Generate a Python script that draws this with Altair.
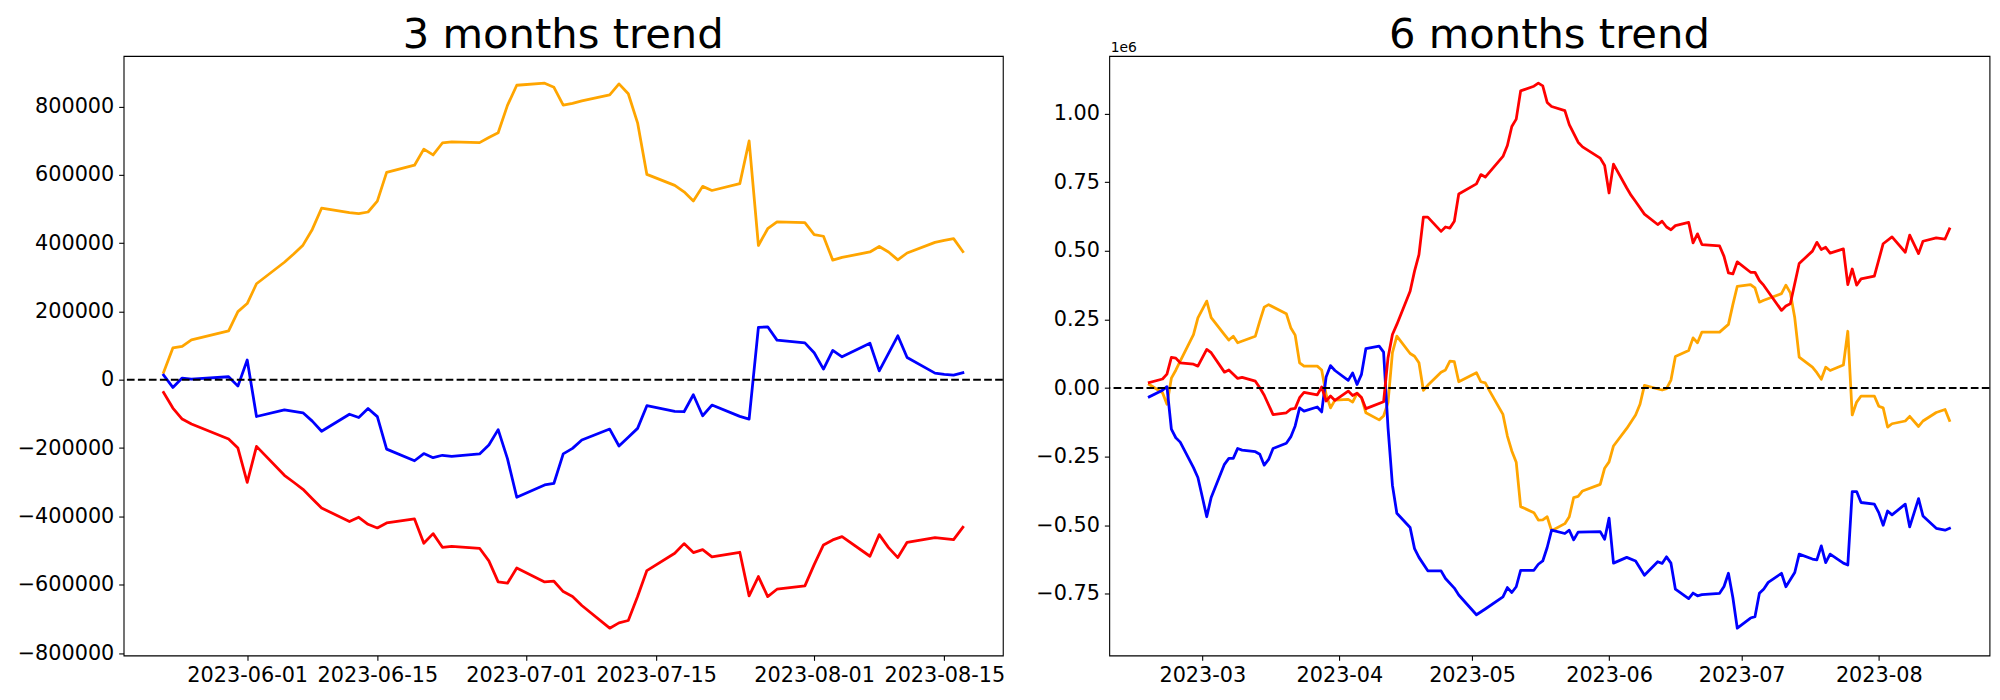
import altair as alt
import pandas as pd

# ---------------- 3 months panel ----------------
dates3 = [
    "2023-05-23", "2023-05-24", "2023-05-25", "2023-05-26", "2023-05-30", "2023-05-31",
    "2023-06-01", "2023-06-02", "2023-06-05", "2023-06-06", "2023-06-07", "2023-06-08", "2023-06-09",
    "2023-06-12", "2023-06-13", "2023-06-14", "2023-06-15", "2023-06-16",
    "2023-06-19", "2023-06-20", "2023-06-21", "2023-06-22", "2023-06-23",
    "2023-06-26", "2023-06-27", "2023-06-28", "2023-06-29", "2023-06-30",
    "2023-07-03", "2023-07-04", "2023-07-05", "2023-07-06", "2023-07-07",
    "2023-07-10", "2023-07-11", "2023-07-12", "2023-07-13", "2023-07-14",
    "2023-07-17", "2023-07-18", "2023-07-19", "2023-07-20", "2023-07-21",
    "2023-07-24", "2023-07-25", "2023-07-26", "2023-07-27", "2023-07-28",
    "2023-07-31", "2023-08-01", "2023-08-02", "2023-08-03", "2023-08-04",
    "2023-08-07", "2023-08-08", "2023-08-09", "2023-08-10", "2023-08-11",
    "2023-08-14", "2023-08-15", "2023-08-16", "2023-08-17",
]
orange3 = [
    21500, 93000, 98000, 117000, 143000, 199500,
    223000, 281000, 344000, 368000, 394000, 440000, 502000,
    489000, 486000, 491000, 523000, 607000,
    628000, 675000, 658000, 693000, 696000,
    694000, 709000, 723000, 803000, 862000,
    868000, 856000, 804000, 809000, 816000,
    834000, 866000, 837000, 752000, 601000,
    569000, 550000, 523000, 566000, 554000,
    574000, 699000, 393000, 442000, 462000,
    460000, 425000, 420000, 350000, 358000,
    374000, 390000, 374000, 351000, 371000,
    402000, 408000, 413000, 375000,
]
blue3 = [
    13700, -22500, 4900, 2000, 8800, -18600,
    57700, -107600, -88000, -92600, -96800, -121000, -150600,
    -101000, -110500, -84000, -108000, -203000,
    -237000, -216000, -228000, -221000, -224000,
    -217000, -191000, -146000, -231000, -344000,
    -308000, -303000, -217000, -200800, -176400,
    -144300, -194000, -168000, -142300, -76000,
    -92600, -93600, -43900, -105300, -74100,
    -107200, -115000, 153000, 155000, 116000,
    108000, 79000, 31000, 86000, 67000,
    107000, 26000, 77000, 128700, 65300,
    19500, 16000, 13700, 20500,
]
red3 = [
    -37000, -82800, -115000, -129600, -173500, -199800,
    -300200, -195000, -279700, -300000, -320700, -348000, -375300,
    -415200, -402500, -423000, -433700, -419100,
    -407400, -478600, -450300, -490300, -487400,
    -493200, -530200, -591600, -595500, -550700,
    -591600, -589700, -620000, -634500, -660800,
    -727100, -711500, -704700, -634500, -558500,
    -507800, -479600, -505900, -497100, -518500,
    -504900, -632600, -576000, -634500, -613100,
    -603400, -541000, -483400, -468800, -459100,
    -516600, -453200, -491200, -520500, -475700,
    -462000, -465000, -467900, -431800,
]
xticks3 = ["2023-06-01", "2023-06-15", "2023-07-01", "2023-07-15", "2023-08-01", "2023-08-15"]
yticks3 = [-800000, -600000, -400000, -200000, 0, 200000, 400000, 600000, 800000]

# ---------------- 6 months panel (values in units of 1e6) ----------------
dates6_red = [
    "2023-02-17", "2023-02-20", "2023-02-21", "2023-02-22", "2023-02-23", "2023-02-24", "2023-02-27", "2023-02-28",
    "2023-03-02", "2023-03-03", "2023-03-06", "2023-03-07", "2023-03-09", "2023-03-10", "2023-03-13", "2023-03-14",
    "2023-03-15", "2023-03-17", "2023-03-20", "2023-03-21", "2023-03-22", "2023-03-23", "2023-03-24", "2023-03-27",
    "2023-03-28", "2023-03-29", "2023-03-30", "2023-03-31", "2023-04-03", "2023-04-04", "2023-04-05", "2023-04-06",
    "2023-04-07", "2023-04-11", "2023-04-12", "2023-04-13", "2023-04-14", "2023-04-17", "2023-04-18", "2023-04-19",
    "2023-04-20", "2023-04-21", "2023-04-24", "2023-04-25", "2023-04-26", "2023-04-27", "2023-04-28", "2023-05-02",
    "2023-05-03", "2023-05-04", "2023-05-08", "2023-05-09", "2023-05-10", "2023-05-11", "2023-05-12", "2023-05-15",
    "2023-05-16", "2023-05-17", "2023-05-18", "2023-05-19", "2023-05-22", "2023-05-23", "2023-05-25", "2023-05-26",
    "2023-05-30", "2023-05-31", "2023-06-01", "2023-06-02", "2023-06-05", "2023-06-06", "2023-06-07", "2023-06-09",
    "2023-06-12", "2023-06-13", "2023-06-14", "2023-06-15", "2023-06-16", "2023-06-19", "2023-06-20", "2023-06-21",
    "2023-06-22", "2023-06-26", "2023-06-27", "2023-06-28", "2023-06-29", "2023-06-30", "2023-07-03", "2023-07-04",
    "2023-07-05", "2023-07-06", "2023-07-10", "2023-07-11", "2023-07-12", "2023-07-14", "2023-07-17", "2023-07-18",
    "2023-07-19", "2023-07-20", "2023-07-21", "2023-07-24", "2023-07-25", "2023-07-26", "2023-07-27", "2023-07-28",
    "2023-07-31", "2023-08-02", "2023-08-04", "2023-08-07", "2023-08-08", "2023-08-10", "2023-08-11", "2023-08-14",
    "2023-08-16", "2023-08-17",
]
red6 = [
    0.020, 0.033, 0.051, 0.112, 0.109, 0.092, 0.087, 0.080,
    0.141, 0.129, 0.058, 0.066, 0.035, 0.039, 0.025, 0.001,
    -0.026, -0.097, -0.090, -0.077, -0.074, -0.035, -0.016, -0.025,
    0.004, -0.047, -0.029, -0.045, -0.011, -0.027, -0.019, -0.034,
    -0.075, -0.050, 0.110, 0.195, 0.232, 0.353, 0.426, 0.486,
    0.623, 0.623, 0.571, 0.587, 0.583, 0.608, 0.707, 0.744,
    0.778, 0.769, 0.844, 0.884, 0.953, 0.980, 1.083, 1.100,
    1.111, 1.101, 1.041, 1.026, 1.011, 0.960, 0.896, 0.879,
    0.838, 0.811, 0.711, 0.816, 0.729, 0.702, 0.680, 0.634,
    0.596, 0.608, 0.587, 0.577, 0.592, 0.604, 0.529, 0.562,
    0.523, 0.518, 0.480, 0.420, 0.416, 0.460, 0.422, 0.422,
    0.392, 0.374, 0.283, 0.299, 0.307, 0.454, 0.499, 0.531,
    0.505, 0.513, 0.492, 0.507, 0.377, 0.434, 0.375, 0.398,
    0.408, 0.526, 0.551, 0.495, 0.557, 0.490, 0.535, 0.547,
    0.543, 0.580,
]
dates6_blue = [
    "2023-02-17", "2023-02-20", "2023-02-21", "2023-02-22", "2023-02-23", "2023-02-24", "2023-02-27", "2023-02-28",
    "2023-03-01", "2023-03-02", "2023-03-03", "2023-03-06", "2023-03-07", "2023-03-08", "2023-03-09", "2023-03-10",
    "2023-03-13", "2023-03-14", "2023-03-15", "2023-03-16", "2023-03-17", "2023-03-20", "2023-03-21", "2023-03-22",
    "2023-03-23", "2023-03-24", "2023-03-27", "2023-03-28", "2023-03-29", "2023-03-30", "2023-03-31", "2023-04-03",
    "2023-04-04", "2023-04-05", "2023-04-06", "2023-04-07", "2023-04-10", "2023-04-11", "2023-04-12", "2023-04-13",
    "2023-04-14", "2023-04-17", "2023-04-18", "2023-04-19", "2023-04-21", "2023-04-24", "2023-04-25", "2023-04-27",
    "2023-04-28", "2023-05-02", "2023-05-04", "2023-05-08", "2023-05-09", "2023-05-10", "2023-05-11", "2023-05-12",
    "2023-05-15", "2023-05-16", "2023-05-17", "2023-05-18", "2023-05-19", "2023-05-22", "2023-05-23", "2023-05-24",
    "2023-05-25", "2023-05-30", "2023-05-31", "2023-06-01", "2023-06-02", "2023-06-05", "2023-06-07", "2023-06-09",
    "2023-06-12", "2023-06-13", "2023-06-14", "2023-06-15", "2023-06-16", "2023-06-19", "2023-06-20", "2023-06-21",
    "2023-06-22", "2023-06-26", "2023-06-27", "2023-06-28", "2023-06-29", "2023-06-30", "2023-07-03", "2023-07-04",
    "2023-07-05", "2023-07-06", "2023-07-07", "2023-07-10", "2023-07-11", "2023-07-13", "2023-07-14", "2023-07-17",
    "2023-07-18", "2023-07-19", "2023-07-20", "2023-07-21", "2023-07-24", "2023-07-25", "2023-07-26", "2023-07-27",
    "2023-07-28", "2023-07-31", "2023-08-01", "2023-08-02", "2023-08-03", "2023-08-04", "2023-08-07", "2023-08-08",
    "2023-08-10", "2023-08-11", "2023-08-14", "2023-08-16", "2023-08-17",
]
blue6 = [
    -0.032, -0.008, 0.005, -0.150, -0.181, -0.197, -0.290, -0.326,
    -0.397, -0.469, -0.399, -0.278, -0.256, -0.256, -0.220, -0.226,
    -0.232, -0.241, -0.281, -0.260, -0.220, -0.201, -0.178, -0.138,
    -0.072, -0.084, -0.069, -0.087, 0.040, 0.082, 0.064, 0.028,
    0.055, 0.013, 0.050, 0.144, 0.153, 0.131, -0.144, -0.354,
    -0.456, -0.508, -0.585, -0.617, -0.666, -0.666, -0.694, -0.729,
    -0.754, -0.826, -0.805, -0.761, -0.727, -0.745, -0.724, -0.664,
    -0.664, -0.642, -0.630, -0.581, -0.518, -0.530, -0.518, -0.553,
    -0.525, -0.523, -0.551, -0.474, -0.638, -0.617, -0.630, -0.682,
    -0.633, -0.639, -0.615, -0.638, -0.733, -0.767, -0.747, -0.757,
    -0.753, -0.748, -0.723, -0.675, -0.763, -0.875, -0.838, -0.833,
    -0.748, -0.732, -0.708, -0.675, -0.724, -0.672, -0.605, -0.623,
    -0.626, -0.575, -0.636, -0.605, -0.638, -0.645, -0.377, -0.377,
    -0.417, -0.423, -0.454, -0.500, -0.448, -0.462, -0.423, -0.506,
    -0.403, -0.466, -0.511, -0.518, -0.511,
]
dates6_orange = [
    "2023-02-17", "2023-02-20", "2023-02-21", "2023-02-22", "2023-02-23", "2023-02-24", "2023-02-27", "2023-02-28",
    "2023-03-02", "2023-03-03", "2023-03-06", "2023-03-07", "2023-03-08", "2023-03-09", "2023-03-13", "2023-03-14",
    "2023-03-15", "2023-03-16", "2023-03-20", "2023-03-21", "2023-03-22", "2023-03-23", "2023-03-24", "2023-03-27",
    "2023-03-28", "2023-03-29", "2023-03-30", "2023-03-31", "2023-04-03", "2023-04-04", "2023-04-05", "2023-04-06",
    "2023-04-07", "2023-04-10", "2023-04-11", "2023-04-12", "2023-04-13", "2023-04-14", "2023-04-17", "2023-04-18",
    "2023-04-19", "2023-04-20", "2023-04-21", "2023-04-24", "2023-04-25", "2023-04-26", "2023-04-27", "2023-04-28",
    "2023-05-02", "2023-05-03", "2023-05-04", "2023-05-05", "2023-05-08", "2023-05-09", "2023-05-10", "2023-05-11",
    "2023-05-12", "2023-05-15", "2023-05-16", "2023-05-17", "2023-05-18", "2023-05-19", "2023-05-22", "2023-05-23",
    "2023-05-24", "2023-05-25", "2023-05-26", "2023-05-30", "2023-05-31", "2023-06-01", "2023-06-02", "2023-06-05",
    "2023-06-07", "2023-06-08", "2023-06-09", "2023-06-13", "2023-06-14", "2023-06-15", "2023-06-16", "2023-06-19",
    "2023-06-20", "2023-06-21", "2023-06-22", "2023-06-26", "2023-06-28", "2023-06-29", "2023-06-30", "2023-07-03",
    "2023-07-04", "2023-07-05", "2023-07-06", "2023-07-10", "2023-07-11", "2023-07-12", "2023-07-13", "2023-07-14",
    "2023-07-17", "2023-07-18", "2023-07-19", "2023-07-20", "2023-07-21", "2023-07-24", "2023-07-25", "2023-07-26",
    "2023-07-27", "2023-07-28", "2023-07-31", "2023-08-01", "2023-08-02", "2023-08-03", "2023-08-04", "2023-08-07",
    "2023-08-08", "2023-08-10", "2023-08-11", "2023-08-14", "2023-08-16", "2023-08-17",
]
orange6 = [
    0.013, -0.017, -0.059, 0.036, 0.065, 0.098, 0.195, 0.256,
    0.317, 0.257, 0.195, 0.175, 0.189, 0.165, 0.189, 0.244,
    0.295, 0.304, 0.271, 0.220, 0.193, 0.092, 0.080, 0.080,
    0.066, -0.023, -0.072, -0.044, -0.041, -0.051, -0.019, -0.035,
    -0.090, -0.116, -0.102, -0.053, 0.129, 0.189, 0.126, 0.116,
    0.092, -0.008, 0.010, 0.058, 0.066, 0.098, 0.096, 0.023,
    0.056, 0.023, 0.019, -0.011, -0.096, -0.175, -0.229, -0.270,
    -0.432, -0.454, -0.481, -0.480, -0.469, -0.520, -0.494, -0.469,
    -0.399, -0.395, -0.375, -0.351, -0.292, -0.269, -0.211, -0.147,
    -0.098, -0.059, 0.010, -0.007, -0.002, 0.029, 0.115, 0.137,
    0.183, 0.165, 0.204, 0.204, 0.232, 0.304, 0.371, 0.377,
    0.365, 0.313, 0.320, 0.344, 0.375, 0.347, 0.256, 0.113,
    0.076, 0.056, 0.032, 0.076, 0.064, 0.084, 0.207, -0.098,
    -0.051, -0.029, -0.029, -0.066, -0.072, -0.142, -0.130, -0.120,
    -0.103, -0.140, -0.120, -0.089, -0.078, -0.118,
]
xticks6 = ["2023-03-01", "2023-04-01", "2023-05-01", "2023-06-01", "2023-07-01", "2023-08-01"]
yticks6 = [-0.75, -0.50, -0.25, 0.00, 0.25, 0.50, 0.75, 1.00]

titles = ["3 months trend", "6 months trend"]
offset_label = "1e6"

FONT = "DejaVu Sans"
LW = 2.78
TICK_FS = 20.8


def ms(s):
    return int(pd.Timestamp(s).value // 10**6)


def time_domain(all_dates):
    t = pd.to_datetime(pd.Series(all_dates))
    lo, hi = t.min(), t.max()
    m = (hi - lo) * 0.05
    return [int((lo - m).value // 10**6), int((hi + m).value // 10**6)]


def value_domain(all_vals):
    lo, hi = min(all_vals), max(all_vals)
    m = (hi - lo) * 0.05
    return [lo - m, hi + m]


def panel(series, xticks, xfmt, yticks, yfmt, title, width, height, extra_label=None):
    all_dates = [d for s in series for d in s[0]]
    all_vals = [v for s in series for v in s[1]]
    x = alt.X(
        "date:T",
        scale=alt.Scale(type="utc", domain=time_domain(all_dates)),
        axis=alt.Axis(values=[ms(t) for t in xticks], title=None,
                      labelExpr=f"utcFormat(datum.value, '{xfmt}')"),
    )
    y = alt.Y(
        "value:Q",
        scale=alt.Scale(domain=value_domain(all_vals), nice=False, zero=False),
        axis=alt.Axis(values=yticks, format=yfmt, title=None),
    )
    layers = []
    for dates, vals, color in series:
        df = pd.DataFrame({"date": dates, "value": vals})
        layers.append(
            alt.Chart(df)
            .mark_line(color=color, strokeWidth=LW, strokeJoin="round", strokeCap="square")
            .encode(x=x, y=y)
        )
    layers.append(
        alt.Chart(pd.DataFrame({"value": [0]}))
        .mark_rule(color="black", strokeWidth=2.08, strokeDash=[7.7, 3.3])
        .encode(y=y)
    )
    layers.append(
        alt.Chart(pd.DataFrame({"t": [title]}))
        .mark_text(font=FONT, fontSize=41.7, align="center", baseline="alphabetic", color="black")
        .encode(x=alt.value(width / 2), y=alt.value(-8.3), text="t:N")
    )
    lab = extra_label if extra_label is not None else offset_label
    layers.append(
        alt.Chart(pd.DataFrame({"t": [lab]}))
        .mark_text(font=FONT, fontSize=13.9, align="left", baseline="alphabetic", color="black",
                   opacity=1 if extra_label is not None else 0)
        .encode(x=alt.value(1.5), y=alt.value(-4), text="t:N")
    )
    return alt.layer(*layers).properties(width=width, height=height)


left = panel(
    [(dates3, orange3, "orange"), (dates3, blue3, "blue"), (dates3, red3, "red")],
    xticks3, "%Y-%m-%d", yticks3, "d", titles[0], 880, 600,
)
right = panel(
    [(dates6_orange, orange6, "orange"), (dates6_blue, blue6, "blue"), (dates6_red, red6, "red")],
    xticks6, "%Y-%m", yticks6, ".2f", titles[1], 881, 600, extra_label=offset_label,
)

chart = (
    alt.hconcat(left, right, spacing=28.5)
    .properties(padding={"left": 7.7, "top": 5.7, "right": 0, "bottom": 0})
    .configure(font=FONT)
    .configure_view(stroke="black", strokeWidth=1.1)
    .configure_axis(
        domain=False, grid=False, ticks=True, tickColor="black", tickWidth=1.1, tickSize=4.9,
        labelFont=FONT, labelFontSize=TICK_FS, labelColor="black", labelPadding=4.9,
        labelOverlap=False, labelFlush=False, labelBound=False,
    )
    .configure_axisX(labelPadding=4.8)
)

chart.save("out.html", embed_options={"renderer": "svg", "actions": False})
